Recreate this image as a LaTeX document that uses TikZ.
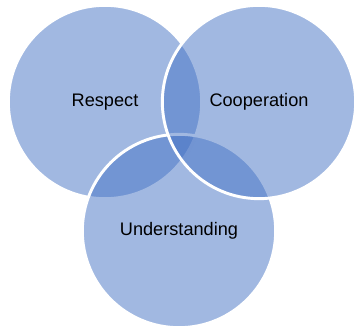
\documentclass[tikz,border=0pt]{standalone}
\usepackage{fontspec}
\setmainfont{Liberation Sans}
\usepackage{tikz}
\definecolor{vennblue}{RGB}{68,114,196}

\begin{document}
\begin{tikzpicture}[every node/.style={circle, minimum size=5.8cm, draw=white, line width=2.5pt, fill=vennblue, fill opacity=0.5, text opacity=1, font=\fontsize{15.5}{18}\selectfont}]
\useasboundingbox (0,0) rectangle (10.65,9.81);
\node (respect) at (3.15,6.75) {Respect};
\node (understanding) at (5.37,2.88) {Understanding};
\node (cooperation) at (7.77,6.75) {Cooperation};
\end{tikzpicture}
\end{document}
